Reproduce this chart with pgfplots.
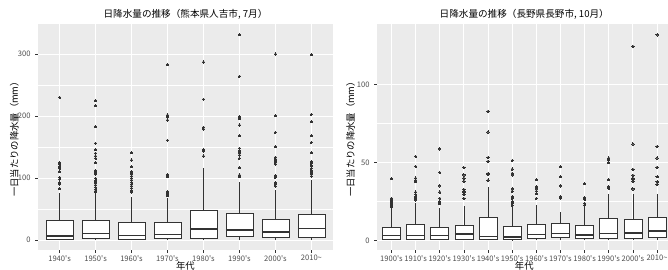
\documentclass[border=0pt]{standalone}
\usepackage{fontspec}
\setmainfont{Noto Sans CJK JP}
\usepackage{pgfplots}
\pgfplotsset{compat=1.18}
\usepgfplotslibrary{statistics}
\definecolor{gray92}{HTML}{EBEBEB}
\definecolor{gray20}{HTML}{333333}
\definecolor{gray30}{HTML}{4D4D4D}
\pgfplotsset{
 gg/.style={
  scale only axis, height=169.5pt,
  axis background/.style={fill=gray92},
  axis line style={draw=none},
  xmajorgrids, ymajorgrids, yminorgrids,
  major grid style={white, line width=0.7pt},
  minor grid style={white, line width=0.35pt},
  minor y tick num=1,
  minor tick length=0pt,
  major tick length=2pt,
  tick align=outside,
  xtick pos=left, ytick pos=left,
  tick style={gray20, line width=0.5pt},
  tick label style={font=\fontsize{5.7}{7}\selectfont, text=gray30},
  xticklabel style={yshift=1.5pt},
  /pgf/number format/assume math mode=true,
  xlabel style={font=\fontsize{7}{8}\selectfont, at={(axis description cs:0.5,-0.07)}, anchor=center},
  every axis title shift=0pt,
  title style={font=\fontsize{7.2}{8}\selectfont, at={(axis description cs:0.5,1.044)}, anchor=center},
  boxplot/draw direction=y,
  boxplot/box extend=0.75,
  boxplot/whisker extend=0,
  boxplot/every box/.style={draw=gray20, fill=white, line width=0.5pt},
  boxplot/every whisker/.style={draw=gray20, line width=0.5pt},
  boxplot/every median/.style={draw=gray20, line width=1pt},
 },
 bp/.style={gray20, mark=*, mark size=0.85pt, mark options={fill=gray20, draw=gray20, line width=0pt}},
}
\begin{document}
\begin{tikzpicture}
\path[use as bounding box] (0,0) rectangle (501pt,201.75pt);
% ---------------- left panel
\begin{axis}[gg, width=221.25pt, at={(28.5pt,14.25pt)}, anchor=south west,
  xmin=0.4, xmax=8.6, ymin=-16.1, ymax=348.4,
  xtick={1,...,8},
  xticklabels={1940\textquotesingle s,1950\textquotesingle s,1960\textquotesingle s,1970\textquotesingle s,1980\textquotesingle s,1990\textquotesingle s,2000\textquotesingle s,2010\textasciitilde},
  ytick={0,100,200,300},
  title={日降水量の推移（熊本県人吉市, 7月）},
  xlabel={年代},
  ylabel={一日当たりの降水量（mm）},
  ylabel style={font=\fontsize{7}{8}\selectfont, at={(axis description cs:-0.08,0.5)}, anchor=center},
]
\addplot[bp, boxplot prepared={draw position=1, lower whisker=0, lower quartile=1.6, median=6.5, upper quartile=31.7, upper whisker=76}]
 coordinates {(0,230) (0,124.7) (0,122) (0,118) (0,115.6) (0,110) (0,101) (0,98) (0,92) (0,90) (0,83)};
\addplot[bp, boxplot prepared={draw position=2, lower whisker=0, lower quartile=2, median=11, upper quartile=32, upper whisker=76}]
 coordinates {(0,225) (0,216.6) (0,182.5) (0,156) (0,146) (0,140) (0,135.5) (0,131.7) (0,124.7) (0,111.8) (0,108.5) (0,106.5) (0,99.5) (0,95.6) (0,92.4) (0,88.7) (0,85) (0,81.7) (0,79) (0,77.5)};
\addplot[bp, boxplot prepared={draw position=3, lower whisker=0, lower quartile=1.6, median=7.5, upper quartile=29, upper whisker=70}]
 coordinates {(0,140.8) (0,129) (0,118) (0,110) (0,106.5) (0,103) (0,99.5) (0,96.8) (0,93) (0,90) (0,87) (0,83.4) (0,80) (0,77)};
\addplot[bp, boxplot prepared={draw position=4, lower whisker=0, lower quartile=3.2, median=8.6, upper quartile=29, upper whisker=68}]
 coordinates {(0,283) (0,201.6) (0,199) (0,193.5) (0,161) (0,105) (0,102) (0,78) (0,75) (0,72)};
\addplot[bp, boxplot prepared={draw position=5, lower whisker=0, lower quartile=3.2, median=18, upper quartile=48, upper whisker=116}]
 coordinates {(0,287) (0,227) (0,181.7) (0,179) (0,146) (0,143.5) (0,135.5)};
\addplot[bp, boxplot prepared={draw position=6, lower whisker=0, lower quartile=5.4, median=16, upper quartile=43, upper whisker=94}]
 coordinates {(0,331) (0,264) (0,199) (0,196) (0,185.5) (0,168) (0,148) (0,144) (0,141) (0,137) (0,131.7) (0,116.6) (0,104.8) (0,102)};
\addplot[bp, boxplot prepared={draw position=7, lower whisker=0, lower quartile=4.3, median=13, upper quartile=34, upper whisker=81}]
 coordinates {(0,300) (0,200.5) (0,173.7) (0,150.5) (0,133.4) (0,130.6) (0,128) (0,125.3) (0,122.6) (0,103.7) (0,101) (0,92.4) (0,89.8) (0,87)};
\addplot[bp, boxplot prepared={draw position=8, lower whisker=0, lower quartile=4.3, median=19, upper quartile=42, upper whisker=97}]
 coordinates {(0,299) (0,202.7) (0,190.8) (0,168.3) (0,157.6) (0,140.8) (0,126.3) (0,123.7) (0,119.8) (0,115.6) (0,111.8) (0,108.5) (0,106.5) (0,103)};
\end{axis}
% ---------------- right panel
\begin{axis}[gg, width=220.9pt, at={(282.75pt,14.25pt)}, anchor=south west,
  xmin=0.4, xmax=12.6, ymin=-6.2, ymax=139,
  xtick={1,...,12},
  xticklabels={1900\textquotesingle s,1910\textquotesingle s,1920\textquotesingle s,1930\textquotesingle s,1940\textquotesingle s,1950\textquotesingle s,1960\textquotesingle s,1970\textquotesingle s,1980\textquotesingle s,1990\textquotesingle s,2000\textquotesingle s,2010\textasciitilde},
  ytick={0,50,100},
  title={日降水量の推移（長野県長野市, 10月）},
  xlabel={年代},
  ylabel={一日当たりの降水量（mm）},
  ylabel style={font=\fontsize{7}{8}\selectfont, at={(axis description cs:-0.09,0.5)}, anchor=center},
]
\addplot[bp, boxplot prepared={draw position=1, lower whisker=0, lower quartile=0.6, median=3.2, upper quartile=8.5, upper whisker=20.5}]
 coordinates {(0,39.7) (0,27) (0,26) (0,25) (0,24) (0,23) (0,22) (0,21.3)};
\addplot[bp, boxplot prepared={draw position=2, lower whisker=0, lower quartile=0.6, median=3.2, upper quartile=10.3, upper whisker=24}]
 coordinates {(0,54) (0,47.5) (0,40) (0,38.7) (0,37.6) (0,31) (0,29.5) (0,28) (0,27) (0,26)};
\addplot[bp, boxplot prepared={draw position=3, lower whisker=0, lower quartile=0.6, median=3, upper quartile=8.5, upper whisker=21}]
 coordinates {(0,58.7) (0,43.6) (0,35) (0,31) (0,27) (0,24.8) (0,23.5)};
\addplot[bp, boxplot prepared={draw position=4, lower whisker=0, lower quartile=0.9, median=4, upper quartile=9.8, upper whisker=22}]
 coordinates {(0,46.7) (0,42) (0,40) (0,38) (0,32.7) (0,31.6) (0,30.8) (0,29.5) (0,27)};
\addplot[bp, boxplot prepared={draw position=5, lower whisker=0, lower quartile=0.6, median=2.6, upper quartile=14.7, upper whisker=34}]
 coordinates {(0,82.9) (0,69.6) (0,53.3) (0,50.8) (0,43) (0,42.3) (0,38.7)};
\addplot[bp, boxplot prepared={draw position=6, lower whisker=0, lower quartile=0.4, median=2.1, upper quartile=9.2, upper whisker=21.5}]
 coordinates {(0,51.2) (0,45.8) (0,43) (0,42) (0,33) (0,31.6) (0,28) (0,27) (0,24.8) (0,23.7) (0,22.6)};
\addplot[bp, boxplot prepared={draw position=7, lower whisker=0, lower quartile=1.3, median=3.6, upper quartile=10.3, upper whisker=22.6}]
 coordinates {(0,38.9) (0,34.4) (0,33) (0,31.6) (0,30) (0,27)};
\addplot[bp, boxplot prepared={draw position=8, lower whisker=0, lower quartile=1.7, median=4.3, upper quartile=11, upper whisker=18.4}]
 coordinates {(0,47.3) (0,40.8) (0,35) (0,28) (0,27)};
\addplot[bp, boxplot prepared={draw position=9, lower whisker=0, lower quartile=1.3, median=3.4, upper quartile=9.6, upper whisker=21.5}]
 coordinates {(0,36.5) (0,27.4) (0,26.3) (0,23.7) (0,22.6)};
\addplot[bp, boxplot prepared={draw position=10, lower whisker=0, lower quartile=1, median=4.3, upper quartile=14, upper whisker=29.5}]
 coordinates {(0,52.9) (0,51.8) (0,49.9) (0,39) (0,34.4) (0,33.3)};
\addplot[bp, boxplot prepared={draw position=11, lower whisker=0, lower quartile=1, median=4.7, upper quartile=13.7, upper whisker=29.5}]
 coordinates {(0,124.7) (0,61.9) (0,45.7) (0,41.9) (0,40) (0,39) (0,38) (0,33)};
\addplot[bp, boxplot prepared={draw position=12, lower whisker=0, lower quartile=1.7, median=6, upper quartile=14.5, upper whisker=29.5}]
 coordinates {(0,132) (0,60.4) (0,52.9) (0,47) (0,40.8) (0,37.6) (0,36)};
\end{axis}
\end{tikzpicture}
\end{document}
